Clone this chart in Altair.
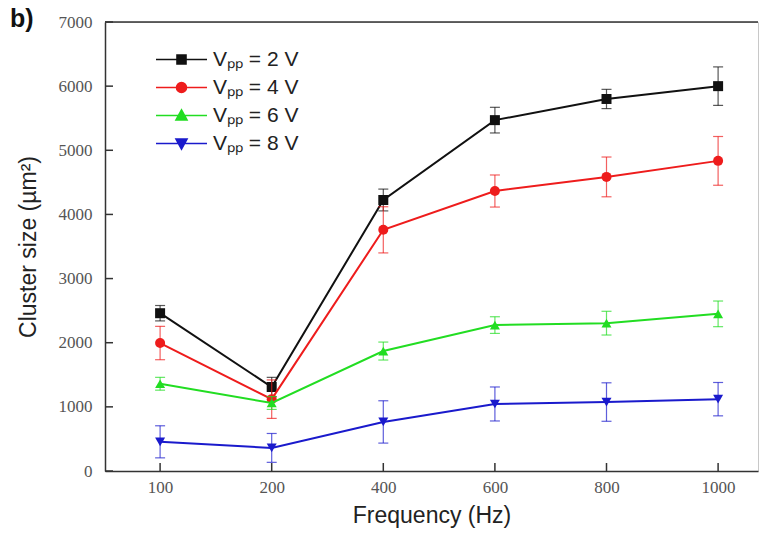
import altair as alt
import pandas as pd

# Frequencies on the x axis (equally spaced categories)
freqs = ["100", "200", "400", "600", "800", "1000"]

# Series labels, colours and marker shapes
series = ["Vₚₚ = 2 V", "Vₚₚ = 4 V", "Vₚₚ = 6 V", "Vₚₚ = 8 V"]
colors = ["#111111", "#ee1c1c", "#22dd22", "#1a1acc"]
shapes = ["square", "circle", "triangle-up", "triangle-down"]

# Mean cluster size (µm²) per frequency
size_2v = [2460, 1310, 4225, 5470, 5800, 6000]
size_4v = [1995, 1120, 3760, 4365, 4585, 4835]
size_6v = [1360, 1060, 1870, 2275, 2305, 2450]
size_8v = [455, 360, 765, 1045, 1075, 1120]

# Standard deviation per point
err_2v = [120, 150, 170, 200, 150, 300]
err_4v = [260, 300, 360, 250, 310, 380]
err_6v = [100, 100, 140, 130, 185, 200]
err_8v = [250, 225, 330, 265, 300, 260]

y_ticks = [0, 1000, 2000, 3000, 4000, 5000, 6000, 7000]

means = [size_2v, size_4v, size_6v, size_8v]
errs = [err_2v, err_4v, err_6v, err_8v]

rows = []
for s, m, e in zip(series, means, errs):
    for f, v, d in zip(freqs, m, e):
        rows.append({"series": s, "freq": f, "size": v, "lo": v - d, "hi": v + d})
df = pd.DataFrame(rows)

W, H = 653, 449
SERIF = "Liberation Serif"
SANS = "Liberation Sans"

xscale = alt.Scale(type="point", domain=freqs, padding=0.4256, align=0.58)
yscale = alt.Scale(domain=[0, 7000], nice=False)

x_axis = alt.Axis(
    title="Frequency (Hz)", ticks=False, grid=False, labelFont=SERIF,
    labelFontSize=17, labelColor="#555555", labelPadding=8, labelAngle=0,
    titleFont=SANS, titleFontSize=23, titleFontWeight="normal",
    titleColor="#222222", titlePadding=9, domainColor="#333333",
    domainWidth=1.5,
)
y_axis = alt.Axis(
    title="Cluster size (µm²)", values=y_ticks, format="d", ticks=False,
    grid=False, labelFont=SERIF, labelFontSize=17, labelColor="#555555",
    labelPadding=13, titleFont=SANS, titleFontSize=23,
    titleFontWeight="normal", titleColor="#222222", titlePadding=18,
    domainColor="#333333", domainWidth=1.5,
)


def xe():
    return alt.X("freq:O", scale=xscale, sort=freqs, axis=x_axis)


def ye(field):
    return alt.Y(f"{field}:Q", scale=yscale, axis=y_axis)


layers = []

# Connecting lines, error bars and markers for each voltage
for s, col, shp in zip(series, colors, shapes):
    sub = alt.Chart(df).transform_filter(alt.datum.series == s)
    layers.append(sub.mark_line(color=col, strokeWidth=2).encode(x=xe(), y=ye("size")))
    layers.append(
        sub.mark_rule(color=col, strokeWidth=1.2, opacity=0.7).encode(
            x=xe(), y=ye("lo"), y2="hi:Q"
        )
    )
    for end in ["lo", "hi"]:
        layers.append(
            sub.mark_tick(color=col, orient="horizontal", size=10, thickness=1.2, opacity=0.7).encode(
                x=xe(), y=ye(end)
            )
        )
    layers.append(
        sub.mark_point(shape=shp, filled=True, size=100, opacity=1, color=col).encode(
            x=xe(), y=ye("size")
        )
    )

# Inward-pointing ticks on both axes
ytick_df = pd.DataFrame({"t": y_ticks})
xtick_df = pd.DataFrame({"freq": freqs})
layers.append(
    alt.Chart(ytick_df).mark_rule(color="#333333", strokeWidth=1.5).encode(
        y=ye("t"), x=alt.value(0), x2=alt.value(8)
    )
)
layers.append(
    alt.Chart(xtick_df).mark_rule(color="#333333", strokeWidth=1.5).encode(
        x=xe(), y=alt.value(H), y2=alt.value(H - 8)
    )
)

# Dark top frame line at the top of the value range
top_df = pd.DataFrame({"edge": [7000]})
layers.append(
    alt.Chart(top_df).mark_rule(color="#333333", strokeWidth=1.5).encode(
        y=ye("edge"), x=alt.value(0), x2=alt.value(W)
    )
)

# Legend: line-through-marker symbols built as custom paths
legend_paths = [
    "M-5.1,0H5.1M-0.9,-0.9H0.9V0.9H-0.9Z",
    "M-5.1,0H5.1M-1,0A1,1,0,1,0,1,0A1,1,0,1,0,-1,0Z",
    "M-5.1,0H5.1M0,-1.1L1.1,0.9L-1.1,0.9Z",
    "M-5.1,0H5.1M0,1.1L1.1,-0.9L-1.1,-0.9Z",
]
leg = alt.Legend(
    title=None, orient="none", legendX=66, legendY=27, padding=0,
    labelFont=SANS, labelFontSize=21, labelColor="#222222",
    labelOffset=21, rowPadding=6, symbolSize=100, symbolStrokeWidth=1.6,
    symbolFillColor="#000000", symbolStrokeColor="#000000",
)
layers.append(
    alt.Chart(df).mark_point(filled=True, size=100, opacity=1, strokeWidth=1.6)
    .encode(
        color=alt.Color("series:N", scale=alt.Scale(domain=series, range=colors), legend=leg),
        stroke=alt.Stroke("series:N", scale=alt.Scale(domain=series, range=colors), legend=leg),
        shape=alt.Shape("series:N", scale=alt.Scale(domain=series, range=legend_paths), legend=leg),
    )
    .transform_filter(alt.datum.size < 0)
)

chart = (
    alt.layer(*layers)
    .properties(
        width=W,
        height=H,
        title=alt.TitleParams(
            text="b)", anchor="start", frame="group", font=SANS, fontSize=25,
            fontWeight="bold", color="#111111", baseline="alphabetic",
            dx=-95, dy=39, offset=0,
        ),
        autosize=alt.AutoSizeParams(type="none"),
        padding={"left": 105, "top": 22, "right": 4, "bottom": 65},
        background="white",
    )
    .configure_view(stroke="#c8c8c8", strokeWidth=1)
)

chart.save("out.html", embed_options={"renderer": "svg", "actions": False})
